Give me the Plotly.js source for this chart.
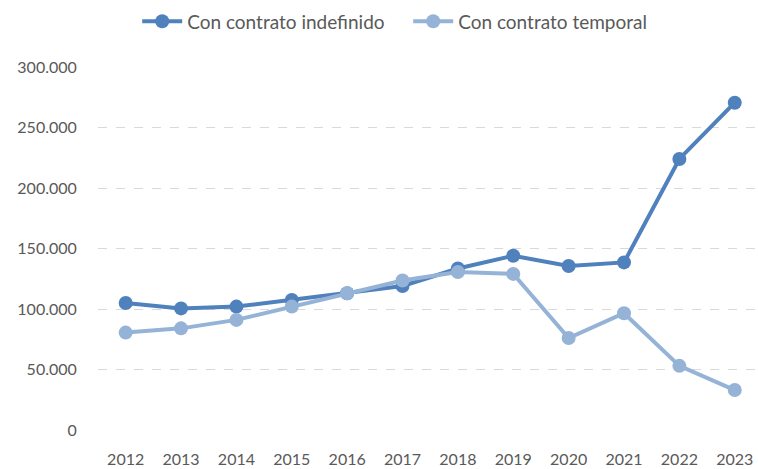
<!DOCTYPE html>
<html>
<head>
<meta charset="utf-8">
<script src="https://cdn.plot.ly/plotly-3.0.1.min.js"></script>
<style>html,body{margin:0;padding:0;background:#fff;}#chart{width:758px;height:469px;}</style>
</head>
<body>
<div id="chart"></div>
<script>
const years = ['2012','2013','2014','2015','2016','2017','2018','2019','2020','2021','2022','2023'];
const indefinido = [105000, 100500, 102000, 107500, 113000, 119000, 133500, 144000, 135500, 138500, 224000, 270500];
const temporal = [80500, 84000, 91000, 102000, 113000, 123500, 130500, 129000, 76000, 96500, 53000, 33000];
const seriesNames = ['Con contrato indefinido', 'Con contrato temporal'];
const yTicks = [0, 50000, 100000, 150000, 200000, 250000, 300000];

const font = 'Lato, "Noto Sans", sans-serif';
const traces = [
  {x: years, y: indefinido, name: seriesNames[0], type: 'scatter', mode: 'lines+markers',
   line: {color: '#4F81BD', width: 4}, marker: {color: '#4F81BD', size: 14}, cliponaxis: false},
  {x: years, y: temporal, name: seriesNames[1], type: 'scatter', mode: 'lines+markers',
   line: {color: '#95B3D7', width: 4}, marker: {color: '#95B3D7', size: 14}, cliponaxis: false}
];
const layout = {
  width: 758, height: 469,
  margin: {l: 98, r: 0, t: 67, b: 39},
  paper_bgcolor: '#fff', plot_bgcolor: '#fff',
  separators: ',.',
  font: {family: font, size: 16, color: '#595959'},
  showlegend: true,
  legend: {orientation: 'h', xref: 'container', x: 0.181, xanchor: 'left', y: 0.995, yref: 'container', yanchor: 'top',
           font: {family: font, size: 19, color: '#595959'}, itemwidth: 40, entrywidth: 216, traceorder: 'normal'},
  xaxis: {type: 'category', range: [-0.5, 11.42], showgrid: false, zeroline: false, showline: false,
          ticks: 'outside', ticklen: 15, tickcolor: 'rgba(0,0,0,0)', tickfont: {family: font, size: 16, color: '#595959'}},
  yaxis: {range: [0, 300000], tickvals: yTicks, tickformat: ',d', showgrid: true, gridcolor: '#d9d9d9',
          griddash: 'dash', gridwidth: 1, zeroline: false, showline: false,
          ticks: 'outside', ticklen: 17, tickcolor: 'rgba(0,0,0,0)', tickfont: {family: font, size: 16, color: '#595959'}}
};
Plotly.newPlot('chart', traces, layout, {displayModeBar: false, staticPlot: true});
</script>
</body>
</html>
